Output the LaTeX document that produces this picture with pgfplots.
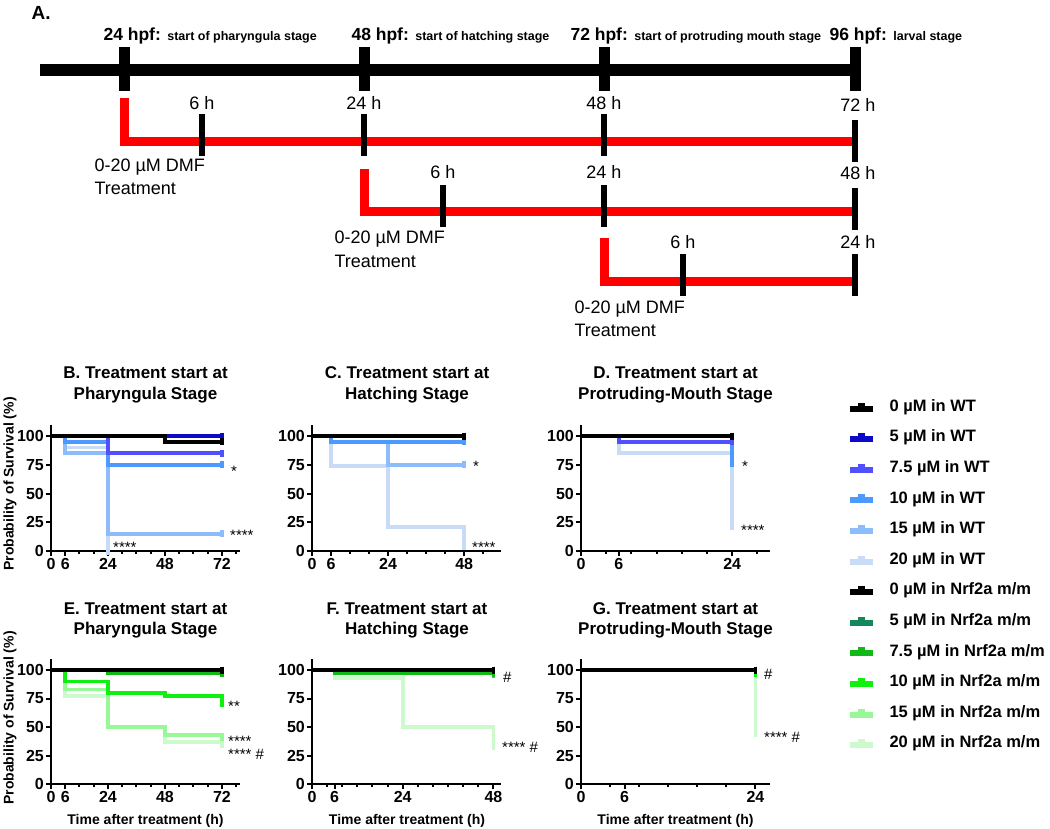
\documentclass[border=0pt]{standalone}
\usepackage{fontspec}
\setmainfont{Liberation Sans}
\usepackage{pgfplots}
\pgfplotsset{compat=1.18}

\definecolor{wt5}{HTML}{0A0AC8}
\definecolor{wt75}{HTML}{5050FF}
\definecolor{wt10}{HTML}{4C9AFF}
\definecolor{wt15}{HTML}{8CBCFA}
\definecolor{wt20}{HTML}{C8DCF8}
\definecolor{nr5}{HTML}{14885A}
\definecolor{nr75}{HTML}{10B818}
\definecolor{nr10}{HTML}{10F010}
\definecolor{nr15}{HTML}{98F898}
\definecolor{nr20}{HTML}{CCFACC}
\definecolor{dmfred}{HTML}{FF0000}

\newcommand{\fs}[1]{\fontsize{#1}{#1}\selectfont}

\pgfplotsset{
 km/.style={line width=3.6pt, const plot mark left, mark=|, mark size=3.5pt, mark options={line width=3.8pt, solid}},
 panel/.style={scale only axis, width=189pt, clip=false, anchor=south west,
   axis x line*=bottom, axis y line*=left, xmin=0, ymin=0, ymax=110,
   ytick={0,25,50,75,100}, tick align=outside, major tick length=5pt, minor tick length=3pt,
   axis line style={line width=2.2pt, black}, tick style={line width=2pt, black},
   ticklabel style={font=\bfseries\fs{16}, inner sep=2pt},
   /pgf/number format/assume math mode=true},
}
\newcommand{\legrow}[5]{%
 \addplot[#1, line width=6pt] coordinates {(850,#3) (873,#3)};
 \addplot[#1, line width=4pt] coordinates {(858,#4) (865,#4)};
 \node[anchor=west, font=\bfseries\fs{16.5}] at (axis cs:886,#2) {#5};
}

\begin{document}
\begin{tikzpicture}
\useasboundingbox (0pt,0pt) rectangle (1050pt,-829pt);

% ---------- canvas axis: panel A, titles, labels, legend ----------
\begin{axis}[at={(0pt,-829pt)}, anchor=south west, scale only axis,
  width=1050pt, height=829pt, xmin=0, xmax=1050, ymin=0, ymax=829,
  y dir=reverse, hide axis, clip=false]
% main timeline
\addplot[black, line width=12pt] coordinates {(40,70) (855,70)};
\addplot[black, line width=11pt] coordinates {(124,47) (124,91)};
\addplot[black, line width=11pt] coordinates {(364,47) (364,91)};
\addplot[black, line width=11pt] coordinates {(604,47) (604,91)};
\addplot[black, line width=11pt] coordinates {(855,47) (855,91)};
% treatment rows
\addplot[dmfred, line width=9pt, line join=miter] coordinates {(124,98) (124,141) (855,141)};
\addplot[dmfred, line width=9pt, line join=miter] coordinates {(364,169) (364,211) (855,211)};
\addplot[dmfred, line width=9pt, line join=miter] coordinates {(604,238) (604,281) (855,281)};
\addplot[black, line width=6pt] coordinates {(202,114) (202,156)};
\addplot[black, line width=6pt] coordinates {(364,114) (364,156)};
\addplot[black, line width=6pt] coordinates {(604,114) (604,156)};
\addplot[black, line width=6pt] coordinates {(855,120) (855,162)};
\addplot[black, line width=6pt] coordinates {(443,185) (443,227)};
\addplot[black, line width=6pt] coordinates {(604,185) (604,227)};
\addplot[black, line width=6pt] coordinates {(855,188) (855,230)};
\addplot[black, line width=6pt] coordinates {(683,254) (683,296)};
\addplot[black, line width=6pt] coordinates {(855,254) (855,296)};

\node[anchor=west, font=\bfseries\fs{19}] at (axis cs:28,13) {A.};
\node[anchor=base west] at (axis cs:100,40) {\bfseries\fs{17.5}24 hpf: \fs{12.5}start of pharyngula stage};
\node[anchor=base west] at (axis cs:348,40) {\bfseries\fs{17.5}48 hpf: \fs{12.5}start of hatching stage};
\node[anchor=base west] at (axis cs:567,40) {\bfseries\fs{17.5}72 hpf: \fs{12.5}start of protruding mouth stage};
\node[anchor=base west] at (axis cs:826,40) {\bfseries\fs{17.5}96 hpf: \fs{12.5}larval stage};

\node[font=\fs{18}] at (axis cs:202,103) {6 h};
\node[font=\fs{18}] at (axis cs:364,103) {24 h};
\node[font=\fs{18}] at (axis cs:604,103) {48 h};
\node[font=\fs{18}] at (axis cs:858,105) {72 h};
\node[font=\fs{18}] at (axis cs:443,172) {6 h};
\node[font=\fs{18}] at (axis cs:604,172) {24 h};
\node[font=\fs{18}] at (axis cs:858,173) {48 h};
\node[font=\fs{18}] at (axis cs:683,242) {6 h};
\node[font=\fs{18}] at (axis cs:858,242) {24 h};

\node[anchor=west, font=\fs{18}] at (axis cs:91,167) {0-20 µM DMF};
\node[anchor=west, font=\fs{18}] at (axis cs:91,188) {Treatment};
\node[anchor=west, font=\fs{18}] at (axis cs:331,239) {0-20 µM DMF};
\node[anchor=west, font=\fs{18}] at (axis cs:331,261) {Treatment};
\node[anchor=west, font=\fs{18}] at (axis cs:571,309) {0-20 µM DMF};
\node[anchor=west, font=\fs{18}] at (axis cs:571,330) {Treatment};

% panel titles
\node[font=\bfseries\fs{17}] at (axis cs:145.5,373) {B. Treatment start at};
\node[font=\bfseries\fs{17}] at (axis cs:145.5,395) {Pharyngula Stage};
\node[font=\bfseries\fs{17}] at (axis cs:407,373) {C. Treatment start at};
\node[font=\bfseries\fs{17}] at (axis cs:407,395) {Hatching Stage};
\node[font=\bfseries\fs{17}] at (axis cs:675.5,373) {D. Treatment start at};
\node[font=\bfseries\fs{17}] at (axis cs:675.5,395) {Protruding-Mouth Stage};
\node[font=\bfseries\fs{17}] at (axis cs:145.5,609) {E. Treatment start at};
\node[font=\bfseries\fs{17}] at (axis cs:145.5,630) {Pharyngula Stage};
\node[font=\bfseries\fs{17}] at (axis cs:407,609) {F. Treatment start at};
\node[font=\bfseries\fs{17}] at (axis cs:407,630) {Hatching Stage};
\node[font=\bfseries\fs{17}] at (axis cs:675.5,609) {G. Treatment start at};
\node[font=\bfseries\fs{17}] at (axis cs:675.5,630) {Protruding-Mouth Stage};

% axis labels
\node[rotate=90, font=\bfseries\fs{14}] at (axis cs:10,484) {Probability of Survival (\%)};
\node[rotate=90, font=\bfseries\fs{14}] at (axis cs:10,718) {Probability of Survival (\%)};
\node[font=\bfseries\fs{14}] at (axis cs:145.5,821) {Time after treatment (h)};
\node[font=\bfseries\fs{14}] at (axis cs:407,821) {Time after treatment (h)};
\node[font=\bfseries\fs{14}] at (axis cs:675.5,821) {Time after treatment (h)};

% significance marks
\node[anchor=west, inner sep=0pt, font=\fs{15}] at (axis cs:231,471) {*};
\node[anchor=west, inner sep=0pt, font=\fs{15}] at (axis cs:230,535) {****};
\node[anchor=west, inner sep=0pt, font=\fs{15}] at (axis cs:113,547) {****};
\node[anchor=west, inner sep=0pt, font=\fs{15}] at (axis cs:473,466) {*};
\node[anchor=west, inner sep=0pt, font=\fs{15}] at (axis cs:472,547) {****};
\node[anchor=west, inner sep=0pt, font=\fs{15}] at (axis cs:742,466) {*};
\node[anchor=west, inner sep=0pt, font=\fs{15}] at (axis cs:741,530) {****};
\node[anchor=west, inner sep=0pt, font=\fs{15}] at (axis cs:228,706) {**};
\node[anchor=west, inner sep=0pt, font=\fs{15}] at (axis cs:228,741) {****};
\node[anchor=west, inner sep=0pt, font=\fs{15}] at (axis cs:228,754) {**** \#};
\node[anchor=west, inner sep=0pt, font=\fs{15}] at (axis cs:503,677) {\#};
\node[anchor=west, inner sep=0pt, font=\fs{15}] at (axis cs:502,747) {**** \#};
\node[anchor=west, inner sep=0pt, font=\fs{15}] at (axis cs:764,674) {\#};
\node[anchor=west, inner sep=0pt, font=\fs{15}] at (axis cs:764,737) {**** \#};

% legend
\legrow{black}{407}{408.5}{404.5}{0 µM in WT}
\legrow{wt5}{437.6}{439.1}{435.1}{5 µM in WT}
\legrow{wt75}{468.2}{469.7}{465.7}{7.5 µM in WT}
\legrow{wt10}{498.8}{500.3}{496.3}{10 µM in WT}
\legrow{wt15}{529.4}{530.9}{526.9}{15 µM in WT}
\legrow{wt20}{560}{561.5}{557.5}{20 µM in WT}
\legrow{black}{590.6}{592.1}{588.1}{0 µM in Nrf2a m/m}
\legrow{nr5}{621.2}{622.7}{618.7}{5 µM in Nrf2a m/m}
\legrow{nr75}{651.8}{653.3}{649.3}{7.5 µM in Nrf2a m/m}
\legrow{nr10}{682.4}{683.9}{679.9}{10 µM in Nrf2a m/m}
\legrow{nr15}{713}{714.5}{710.5}{15 µM in Nrf2a m/m}
\legrow{nr20}{743.6}{745.1}{741.1}{20 µM in Nrf2a m/m}
\end{axis}

% ---------- B ----------
\begin{axis}[panel, at={(51pt,-551pt)}, height=126.5pt, xmax=79.6,
  xtick={0,6,24,48,72}, minor xtick={12,18,30,36,42,54,60,66,78}]
\addplot[km, wt20, mark indices={3}] coordinates {(0,100) (6,90) (24,0)};
\addplot[km, wt15, mark indices={4}] coordinates {(0,100) (6,85) (24,15) (72,15)};
\addplot[km, wt10, mark indices={4}] coordinates {(0,100) (6,95) (24,75) (72,75)};
\addplot[km, wt75, mark indices={3}] coordinates {(0,100) (24,85) (72,85)};
\addplot[km, wt5, mark indices={2}] coordinates {(0,100) (72,100)};
\addplot[km, black, mark indices={3}] coordinates {(0,100) (48,95) (72,95)};
\end{axis}

% ---------- C ----------
\begin{axis}[panel, at={(312pt,-551pt)}, height=126.5pt, xmax=59.6,
  xtick={0,6,24,48}, minor xtick={12,18,30,36,42,54}]
\addplot[km, wt20, mark indices={4}] coordinates {(0,100) (6,74) (24,21) (48,4)};
\addplot[km, wt15, mark indices={4}] coordinates {(0,100) (6,95) (24,75) (48,75)};
\addplot[km, wt10, mark indices={3}] coordinates {(0,100) (6,95) (48,95)};
\addplot[km, wt75, mark indices={2}] coordinates {(0,100) (48,100)};
\addplot[km, wt5, mark indices={2}] coordinates {(0,100) (48,100)};
\addplot[km, black, mark indices={2}] coordinates {(0,100) (48,100)};
\end{axis}

% ---------- D ----------
\begin{axis}[panel, at={(581pt,-551pt)}, height=126.5pt, xmax=30,
  xtick={0,6,24}, minor xtick={4,8,12,16,20,28}]
\addplot[km, wt20, mark indices={3}] coordinates {(0,100) (6,85) (24,21)};
\addplot[km, wt15, mark indices={2}] coordinates {(0,100) (24,100)};
\addplot[km, wt10, mark indices={3}] coordinates {(0,100) (6,95) (24,76)};
\addplot[km, wt75, mark indices={3}] coordinates {(0,100) (6,95) (24,95)};
\addplot[km, wt5, mark indices={2}] coordinates {(0,100) (24,100)};
\addplot[km, black, mark indices={2}] coordinates {(0,100) (24,100)};
\end{axis}

% ---------- E ----------
\begin{axis}[panel, at={(51pt,-784pt)}, height=125.4pt, xmax=79.6,
  xtick={0,6,24,48,72}, minor xtick={12,18,30,36,42,54,60,66,78}]
\addplot[km, nr20, mark indices={5}] coordinates {(0,100) (6,77) (24,50) (48,37) (72,35)};
\addplot[km, nr15, mark indices={5}] coordinates {(0,100) (6,83) (24,50) (48,43) (72,41)};
\addplot[km, nr10, mark indices={5}] coordinates {(0,100) (6,90) (24,80) (48,77) (72,71)};
\addplot[km, nr75, mark indices={3}] coordinates {(0,100) (24,97) (72,97)};
\addplot[km, nr5, mark indices={2}] coordinates {(0,100) (72,100)};
\addplot[km, black, mark indices={2}] coordinates {(0,100) (72,100)};
\end{axis}

% ---------- F ----------
\begin{axis}[panel, at={(312pt,-784pt)}, height=125.4pt, xmax=50,
  xtick={0,6,24,48}, minor xtick={4,8,12,16,20,28,32,36,40,44}]
\addplot[km, nr20, mark indices={4}] coordinates {(0,100) (6,93) (24,50) (48,33)};
\addplot[km, nr15, mark indices={2}] coordinates {(0,100) (48,100)};
\addplot[km, nr10, mark indices={3}] coordinates {(0,100) (6,97) (48,96)};
\addplot[km, nr75, mark indices={3}] coordinates {(0,100) (6,97) (48,97)};
\addplot[km, nr5, mark indices={2}] coordinates {(0,100) (48,100)};
\addplot[km, black, mark indices={2}] coordinates {(0,100) (48,100)};
\end{axis}

% ---------- G ----------
\begin{axis}[panel, at={(581pt,-784pt)}, height=125.4pt, xmax=26,
  xtick={0,6,24}, minor xtick={4,8,12,16,20}]
\addplot[km, nr20, mark indices={2}] coordinates {(0,100) (24,44)};
\addplot[km, nr15, mark indices={2}] coordinates {(0,100) (24,100)};
\addplot[km, nr10, mark indices={2}] coordinates {(0,100) (24,97)};
\addplot[km, nr75, mark indices={2}] coordinates {(0,100) (24,100)};
\addplot[km, nr5, mark indices={2}] coordinates {(0,100) (24,100)};
\addplot[km, black, mark indices={2}] coordinates {(0,100) (24,100)};
\end{axis}
\end{tikzpicture}
\end{document}
